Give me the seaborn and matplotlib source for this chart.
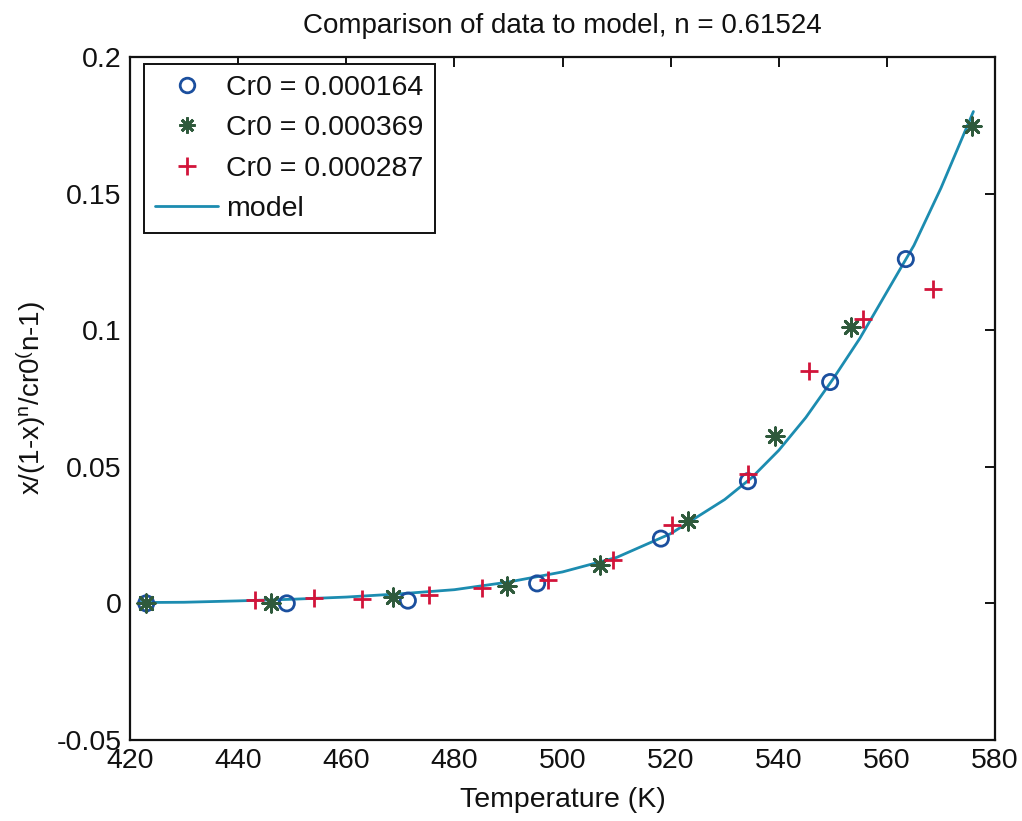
import matplotlib
matplotlib.use('Agg')
import matplotlib.pyplot as plt
import seaborn as sns
from matplotlib.lines import Line2D

# ---- data ----
title_text = "Comparison of data to model, n = 0.61524"
x_label = "Temperature (K)"
y_label = r"x/(1-x)$\mathregular{^n}$/cr0$\mathregular{^(}$n-1)"

label_a = "Cr0 = 0.000164"
temp_a = [423, 449, 471.4, 495.3, 518.2, 534.3, 549.5, 563.5]
val_a = [0.0, 0.0, 0.001, 0.0073, 0.0237, 0.0447, 0.081, 0.126]

label_b = "Cr0 = 0.000369"
temp_b = [423, 446.1, 468.7, 489.8, 507, 523.2, 539.3, 553.4, 575.8]
val_b = [0.0, 0.0, 0.0022, 0.0065, 0.0142, 0.0303, 0.0613, 0.101, 0.1748]

label_c = "Cr0 = 0.000287"
temp_c = [443.1, 454, 463, 475.3, 485.1, 497.3, 509.4, 520.3, 534.3, 545.6, 555.6, 568.5]
val_c = [0.0011, 0.0018, 0.0015, 0.0029, 0.0058, 0.0084, 0.0159, 0.0285, 0.0474, 0.085, 0.104, 0.115]

label_model = "model"
model_temp = [422, 430, 440, 450, 460, 470, 480, 490, 500, 510, 520, 530, 535, 540,
              545, 550, 555, 560, 565, 570, 576]
model_val = [0.0003, 0.0004, 0.0009, 0.0015, 0.0023, 0.0035, 0.005, 0.0078, 0.0115,
             0.0168, 0.0255, 0.038, 0.046, 0.056, 0.068, 0.082, 0.097, 0.114, 0.131,
             0.152, 0.180]

x_ticks = [420, 440, 460, 480, 500, 520, 540, 560, 580]
y_ticks = [-0.05, 0, 0.05, 0.1, 0.15, 0.2]
y_tick_labels = ["-0.05", "0", "0.05", "0.1", "0.15", "0.2"]

# ---- style ----
blue = "#1b4f9e"
green = "#2f5a3c"
red = "#d2143a"
teal = "#1c8cb0"

sns.set_theme(style="white")
plt.rcParams['font.family'] = ['Liberation Sans', 'DejaVu Sans']
plt.rcParams['mathtext.default'] = 'regular'

fig = plt.figure(figsize=(10.22, 8.21), dpi=100)
ax = fig.add_axes([0.1272, 0.0987, 0.8464, 0.832])

sns.lineplot(x=model_temp, y=model_val, ax=ax, color=teal, lw=2.0,
             sort=False, estimator=None, zorder=2)
sns.scatterplot(x=temp_a, y=val_a, ax=ax, marker='o', s=120, facecolors='none',
                edgecolor=blue, linewidth=2.0, zorder=3)
sns.scatterplot(x=temp_b, y=val_b, ax=ax, marker=(8, 2, 0), s=160, color=green,
                edgecolor=green, linewidth=2.0, zorder=3)
sns.scatterplot(x=temp_c, y=val_c, ax=ax, marker='+', s=170, color=red,
                linewidth=2.0, zorder=3)

ax.set_xlim(420, 580)
ax.set_ylim(-0.05, 0.2)
ax.set_xticks(x_ticks)
ax.set_xticklabels([str(t) for t in x_ticks])
ax.set_yticks(y_ticks)
ax.set_yticklabels(y_tick_labels)

ax.tick_params(direction='in', length=7, width=1.4, top=True, right=True,
               labelsize=20.5, colors='#111111', pad=6)
for sp in ax.spines.values():
    sp.set_color('#111111')
    sp.set_linewidth(1.6)

ax.set_title(title_text, fontsize=20, pad=17, color='#111111')
ax.set_xlabel(x_label, fontsize=20.5, labelpad=9, color='#111111')
ax.set_ylabel(y_label, fontsize=20, labelpad=6, color='#111111')

handles = [
    Line2D([], [], ls='none', marker='o', ms=10.5, mfc='none', mec=blue, mew=2.0),
    Line2D([], [], ls='none', marker=(8, 2, 0), ms=11.5, color=green, mew=2.0),
    Line2D([], [], ls='none', marker='+', ms=12.5, color=red, mew=2.0),
    Line2D([], [], color=teal, lw=2.0),
]
leg = ax.legend(handles, [label_a, label_b, label_c, label_model],
                loc='upper left', bbox_to_anchor=(0.016, 0.99), borderaxespad=0,
                fontsize=20.5, frameon=True, fancybox=False, framealpha=1,
                edgecolor='#111111', handlelength=2.2, handletextpad=0.3,
                labelspacing=0.5, borderpad=0.4)
for t in leg.get_texts():
    t.set_color('#111111')
leg.get_frame().set_linewidth(1.4)

fig.savefig("out.png", dpi=100, facecolor='white')
